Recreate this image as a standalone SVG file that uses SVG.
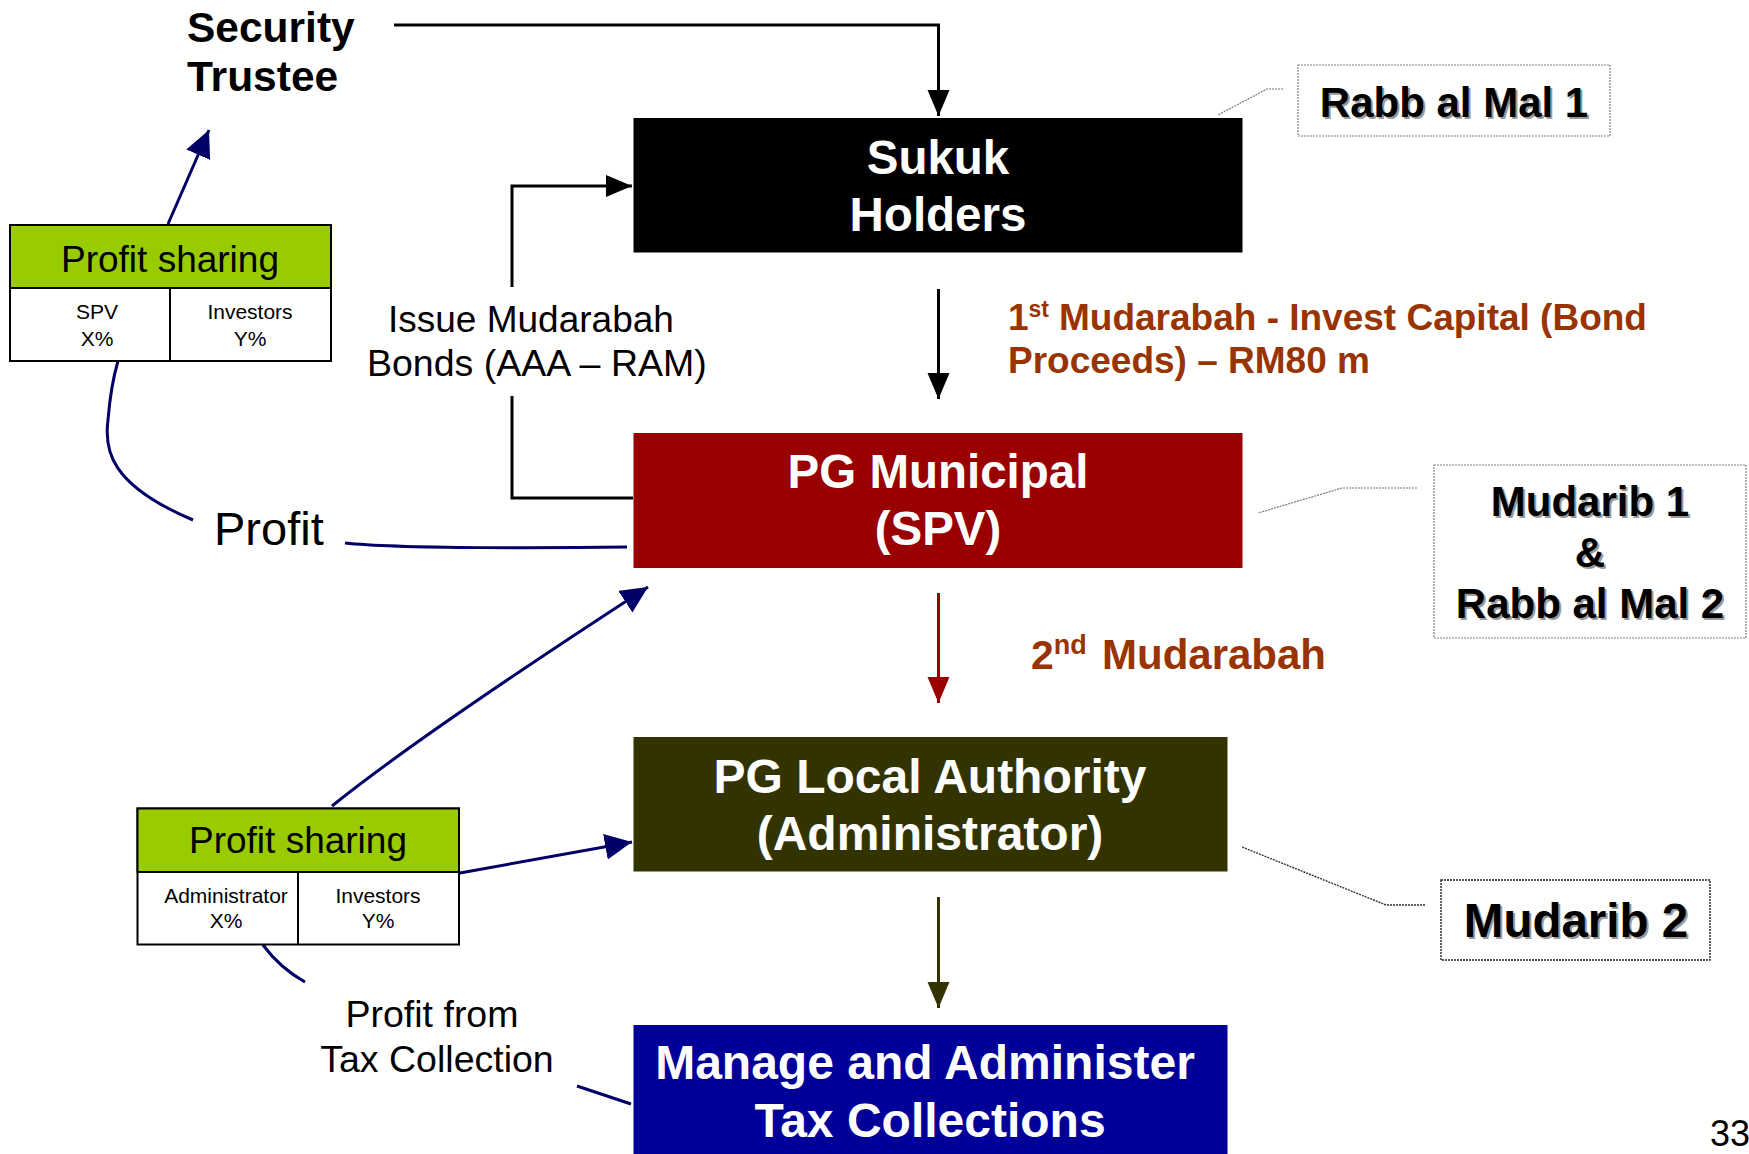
<svg xmlns="http://www.w3.org/2000/svg" width="1749" height="1154" viewBox="0 0 1749 1154">
  <style>
    text { font-family: "Liberation Sans", Arial, sans-serif; }
    .b { font-weight: bold; }
    .white { fill: #ffffff; }
    .brown { fill: #993300; }
    .dark { fill: #000000; }
    .shadow { fill: #9a9a9a; }
    .ln { fill: none; stroke-width: 3; }
    .blk { stroke: #000000; }
    .navy { stroke: #000066; }
    .callout { fill: none; stroke: #777777; stroke-width: 1.2; stroke-dasharray: 2 1; }
    .callout2 { fill: none; stroke: #333333; stroke-width: 1.4; stroke-dasharray: 2 1; }
    .share { fill: #ffffff; stroke: #000000; stroke-width: 2; }
    .shareHead { fill: #99cc00; stroke: #000000; stroke-width: 2; }
  </style>
  <defs>
    <marker id="ahBlack" markerUnits="userSpaceOnUse" markerWidth="28" markerHeight="24" refX="26" refY="11" orient="auto">
      <path d="M0,0 L26,11 L0,22 z" fill="#000000"/>
    </marker>
    <marker id="ahRed" markerUnits="userSpaceOnUse" markerWidth="28" markerHeight="24" refX="26" refY="11" orient="auto">
      <path d="M0,0 L26,11 L0,22 z" fill="#990000"/>
    </marker>
    <marker id="ahOlive" markerUnits="userSpaceOnUse" markerWidth="28" markerHeight="24" refX="26" refY="11" orient="auto">
      <path d="M0,0 L26,11 L0,22 z" fill="#333300"/>
    </marker>
    <marker id="ahNavy" markerUnits="userSpaceOnUse" markerWidth="30" markerHeight="28" refX="27" refY="13" orient="auto">
      <path d="M0,0 L27,13 L0,26 z" fill="#000066"/>
    </marker>
  </defs>

  <rect width="1749" height="1154" fill="#ffffff"/>

  <!-- connectors -->
  <g id="connectors">
    <!-- Security Trustee to Sukuk Holders -->
    <path class="ln blk" d="M394,25 L938.5,25 L938.5,116" marker-end="url(#ahBlack)"/>
    <!-- Issue Mudarabah Bonds: PG Municipal up to Sukuk Holders -->
    <path class="ln blk" d="M633,498 L512,498 L512,396"/>
    <path class="ln blk" d="M512,287 L512,186 L632,186" marker-end="url(#ahBlack)"/>
    <!-- Sukuk Holders to PG Municipal -->
    <path class="ln blk" d="M938.5,289 L938.5,399" marker-end="url(#ahBlack)"/>
    <!-- PG Municipal to PG Local Authority -->
    <path class="ln" stroke="#990000" d="M938.5,593 L938.5,703" marker-end="url(#ahRed)"/>
    <!-- PG Local Authority to Manage and Administer -->
    <path class="ln" stroke="#333300" d="M938.5,897 L938.5,1008" marker-end="url(#ahOlive)"/>

    <!-- Profit from PG Municipal to upper profit sharing -->
    <path class="ln navy" d="M627,547 C560,548 400,549 345,543"/>
    <path class="ln navy" d="M193,520 C110,485 104,450 108,420 C110,395 113,378 118,361"/>
    <!-- upper profit sharing to Security Trustee -->
    <path class="ln navy" d="M168,224 L209,130" marker-end="url(#ahNavy)"/>

    <!-- lower profit sharing to PG Municipal -->
    <path class="ln navy" d="M332,806 Q420,735 648,587" marker-end="url(#ahNavy)"/>
    <!-- lower profit sharing to PG Local Authority -->
    <path class="ln navy" d="M460,873 L632,842" marker-end="url(#ahNavy)"/>
    <!-- profit from tax collection back to lower profit sharing -->
    <path class="ln navy" d="M631,1104 L577,1086"/>
    <path class="ln navy" d="M305,982 Q280,968 263,945"/>

    <!-- callout leaders -->
    <path class="callout" d="M1283,89 L1267,89 L1218,115"/>
    <path class="callout" d="M1417,488 L1342,488 L1258,513"/>
    <path class="callout2" d="M1425,905 L1386,905 L1242,847"/>
  </g>

  <!-- Security Trustee -->
  <g id="security-trustee">
    <text class="b dark" x="187" y="42" font-size="42.5">Security</text>
    <text class="b dark" x="187" y="91" font-size="42.5">Trustee</text>
  </g>

  <!-- Sukuk Holders -->
  <g id="sukuk-holders">
    <rect x="633.5" y="118" width="609" height="134.5" fill="#000000"/>
    <text class="b white" x="938" y="174" font-size="47.5" text-anchor="middle">Sukuk</text>
    <text class="b white" x="938" y="231" font-size="47.5" text-anchor="middle">Holders</text>
  </g>

  <!-- PG Municipal (SPV) -->
  <g id="pg-municipal">
    <rect x="633.5" y="433" width="609" height="135" fill="#990000"/>
    <text class="b white" x="938" y="488" font-size="47.5" text-anchor="middle">PG Municipal</text>
    <text class="b white" x="938" y="545" font-size="47.5" text-anchor="middle">(SPV)</text>
  </g>

  <!-- PG Local Authority (Administrator) -->
  <g id="pg-local-authority">
    <rect x="633.5" y="737" width="594" height="134.5" fill="#333300"/>
    <text class="b white" x="930" y="793" font-size="48" text-anchor="middle">PG Local Authority</text>
    <text class="b white" x="930" y="850" font-size="48" text-anchor="middle">(Administrator)</text>
  </g>

  <!-- Manage and Administer Tax Collections -->
  <g id="manage-tax">
    <rect x="633.5" y="1025" width="594" height="129" fill="#000099"/>
    <text class="b white" x="925" y="1079" font-size="48" text-anchor="middle">Manage and Administer</text>
    <text class="b white" x="930" y="1137" font-size="48" text-anchor="middle">Tax Collections</text>
  </g>

  <!-- Rabb al Mal 1 -->
  <g id="rabb-al-mal-1">
    <rect x="1298" y="65" width="312" height="71" fill="#ffffff" stroke="#808080" stroke-width="1.2" stroke-dasharray="2 1"/>
    <text class="b shadow" x="1456" y="119" font-size="42" text-anchor="middle">Rabb al Mal 1</text>
    <text class="b dark" x="1454" y="117" font-size="42" text-anchor="middle">Rabb al Mal 1</text>
  </g>

  <!-- Mudarib 1 & Rabb al Mal 2 -->
  <g id="mudarib-1">
    <rect x="1434" y="465" width="312" height="173" fill="#ffffff" stroke="#808080" stroke-width="1.2" stroke-dasharray="2 1"/>
    <text class="b shadow" x="1592" y="518" font-size="42" text-anchor="middle">Mudarib 1</text>
    <text class="b dark" x="1590" y="516" font-size="42" text-anchor="middle">Mudarib 1</text>
    <text class="b shadow" x="1592" y="569" font-size="42" text-anchor="middle">&amp;</text>
    <text class="b dark" x="1590" y="567" font-size="42" text-anchor="middle">&amp;</text>
    <text class="b shadow" x="1592" y="620" font-size="42" text-anchor="middle">Rabb al Mal 2</text>
    <text class="b dark" x="1590" y="618" font-size="42" text-anchor="middle">Rabb al Mal 2</text>
  </g>

  <!-- Mudarib 2 -->
  <g id="mudarib-2">
    <rect x="1441" y="880" width="269" height="80" fill="#ffffff" stroke="#222222" stroke-width="1.4" stroke-dasharray="2 1"/>
    <text class="b shadow" x="1578" y="939" font-size="47.5" text-anchor="middle">Mudarib 2</text>
    <text class="b dark" x="1576" y="937" font-size="47.5" text-anchor="middle">Mudarib 2</text>
  </g>

  <!-- upper profit sharing table -->
  <g id="profit-sharing-spv">
    <rect class="share" x="10" y="225" width="321" height="136"/>
    <rect class="shareHead" x="10" y="225" width="321" height="63"/>
    <line x1="170" y1="288" x2="170" y2="361" stroke="#000000" stroke-width="2"/>
    <text class="dark" x="170" y="272" font-size="37" text-anchor="middle">Profit sharing</text>
    <text class="dark" x="97" y="319" font-size="21" text-anchor="middle">SPV</text>
    <text class="dark" x="97" y="346" font-size="21" text-anchor="middle">X%</text>
    <text class="dark" x="250" y="319" font-size="21" text-anchor="middle">Investors</text>
    <text class="dark" x="250" y="346" font-size="21" text-anchor="middle">Y%</text>
  </g>

  <!-- lower profit sharing table -->
  <g id="profit-sharing-admin">
    <rect class="share" x="137.5" y="808.5" width="321.5" height="136"/>
    <rect class="shareHead" x="137.5" y="808.5" width="321.5" height="63.5"/>
    <line x1="298" y1="872" x2="298" y2="944.5" stroke="#000000" stroke-width="2"/>
    <text class="dark" x="298" y="853" font-size="37" text-anchor="middle">Profit sharing</text>
    <text class="dark" x="226" y="903" font-size="21" text-anchor="middle">Administrator</text>
    <text class="dark" x="226" y="928" font-size="21" text-anchor="middle">X%</text>
    <text class="dark" x="378" y="903" font-size="21" text-anchor="middle">Investors</text>
    <text class="dark" x="378" y="928" font-size="21" text-anchor="middle">Y%</text>
  </g>

  <!-- connector labels -->
  <g id="labels">
    <text class="dark" x="388" y="332" font-size="37">Issue Mudarabah</text>
    <text class="dark" x="367" y="376" font-size="37.5">Bonds (AAA – RAM)</text>

    <text class="b brown" x="1008" y="330" font-size="37">1<tspan font-size="23" dy="-13">st</tspan><tspan x="1059" dy="13">Mudarabah - Invest Capital (Bond</tspan></text>
    <text class="b brown" x="1008" y="373" font-size="37">Proceeds) – RM80 m</text>

    <text class="b brown" x="1031" y="669" font-size="41">2<tspan font-size="27" dy="-15">nd</tspan><tspan x="1102" dy="15" font-size="42">Mudarabah</tspan></text>

    <text class="dark" x="214" y="545" font-size="47">Profit</text>

    <text class="dark" x="432" y="1027" font-size="37.5" text-anchor="middle">Profit from</text>
    <text class="dark" x="437" y="1072" font-size="37.5" text-anchor="middle">Tax Collection</text>

    <text class="dark" x="1710" y="1146" font-size="36">33</text>
  </g>
</svg>
